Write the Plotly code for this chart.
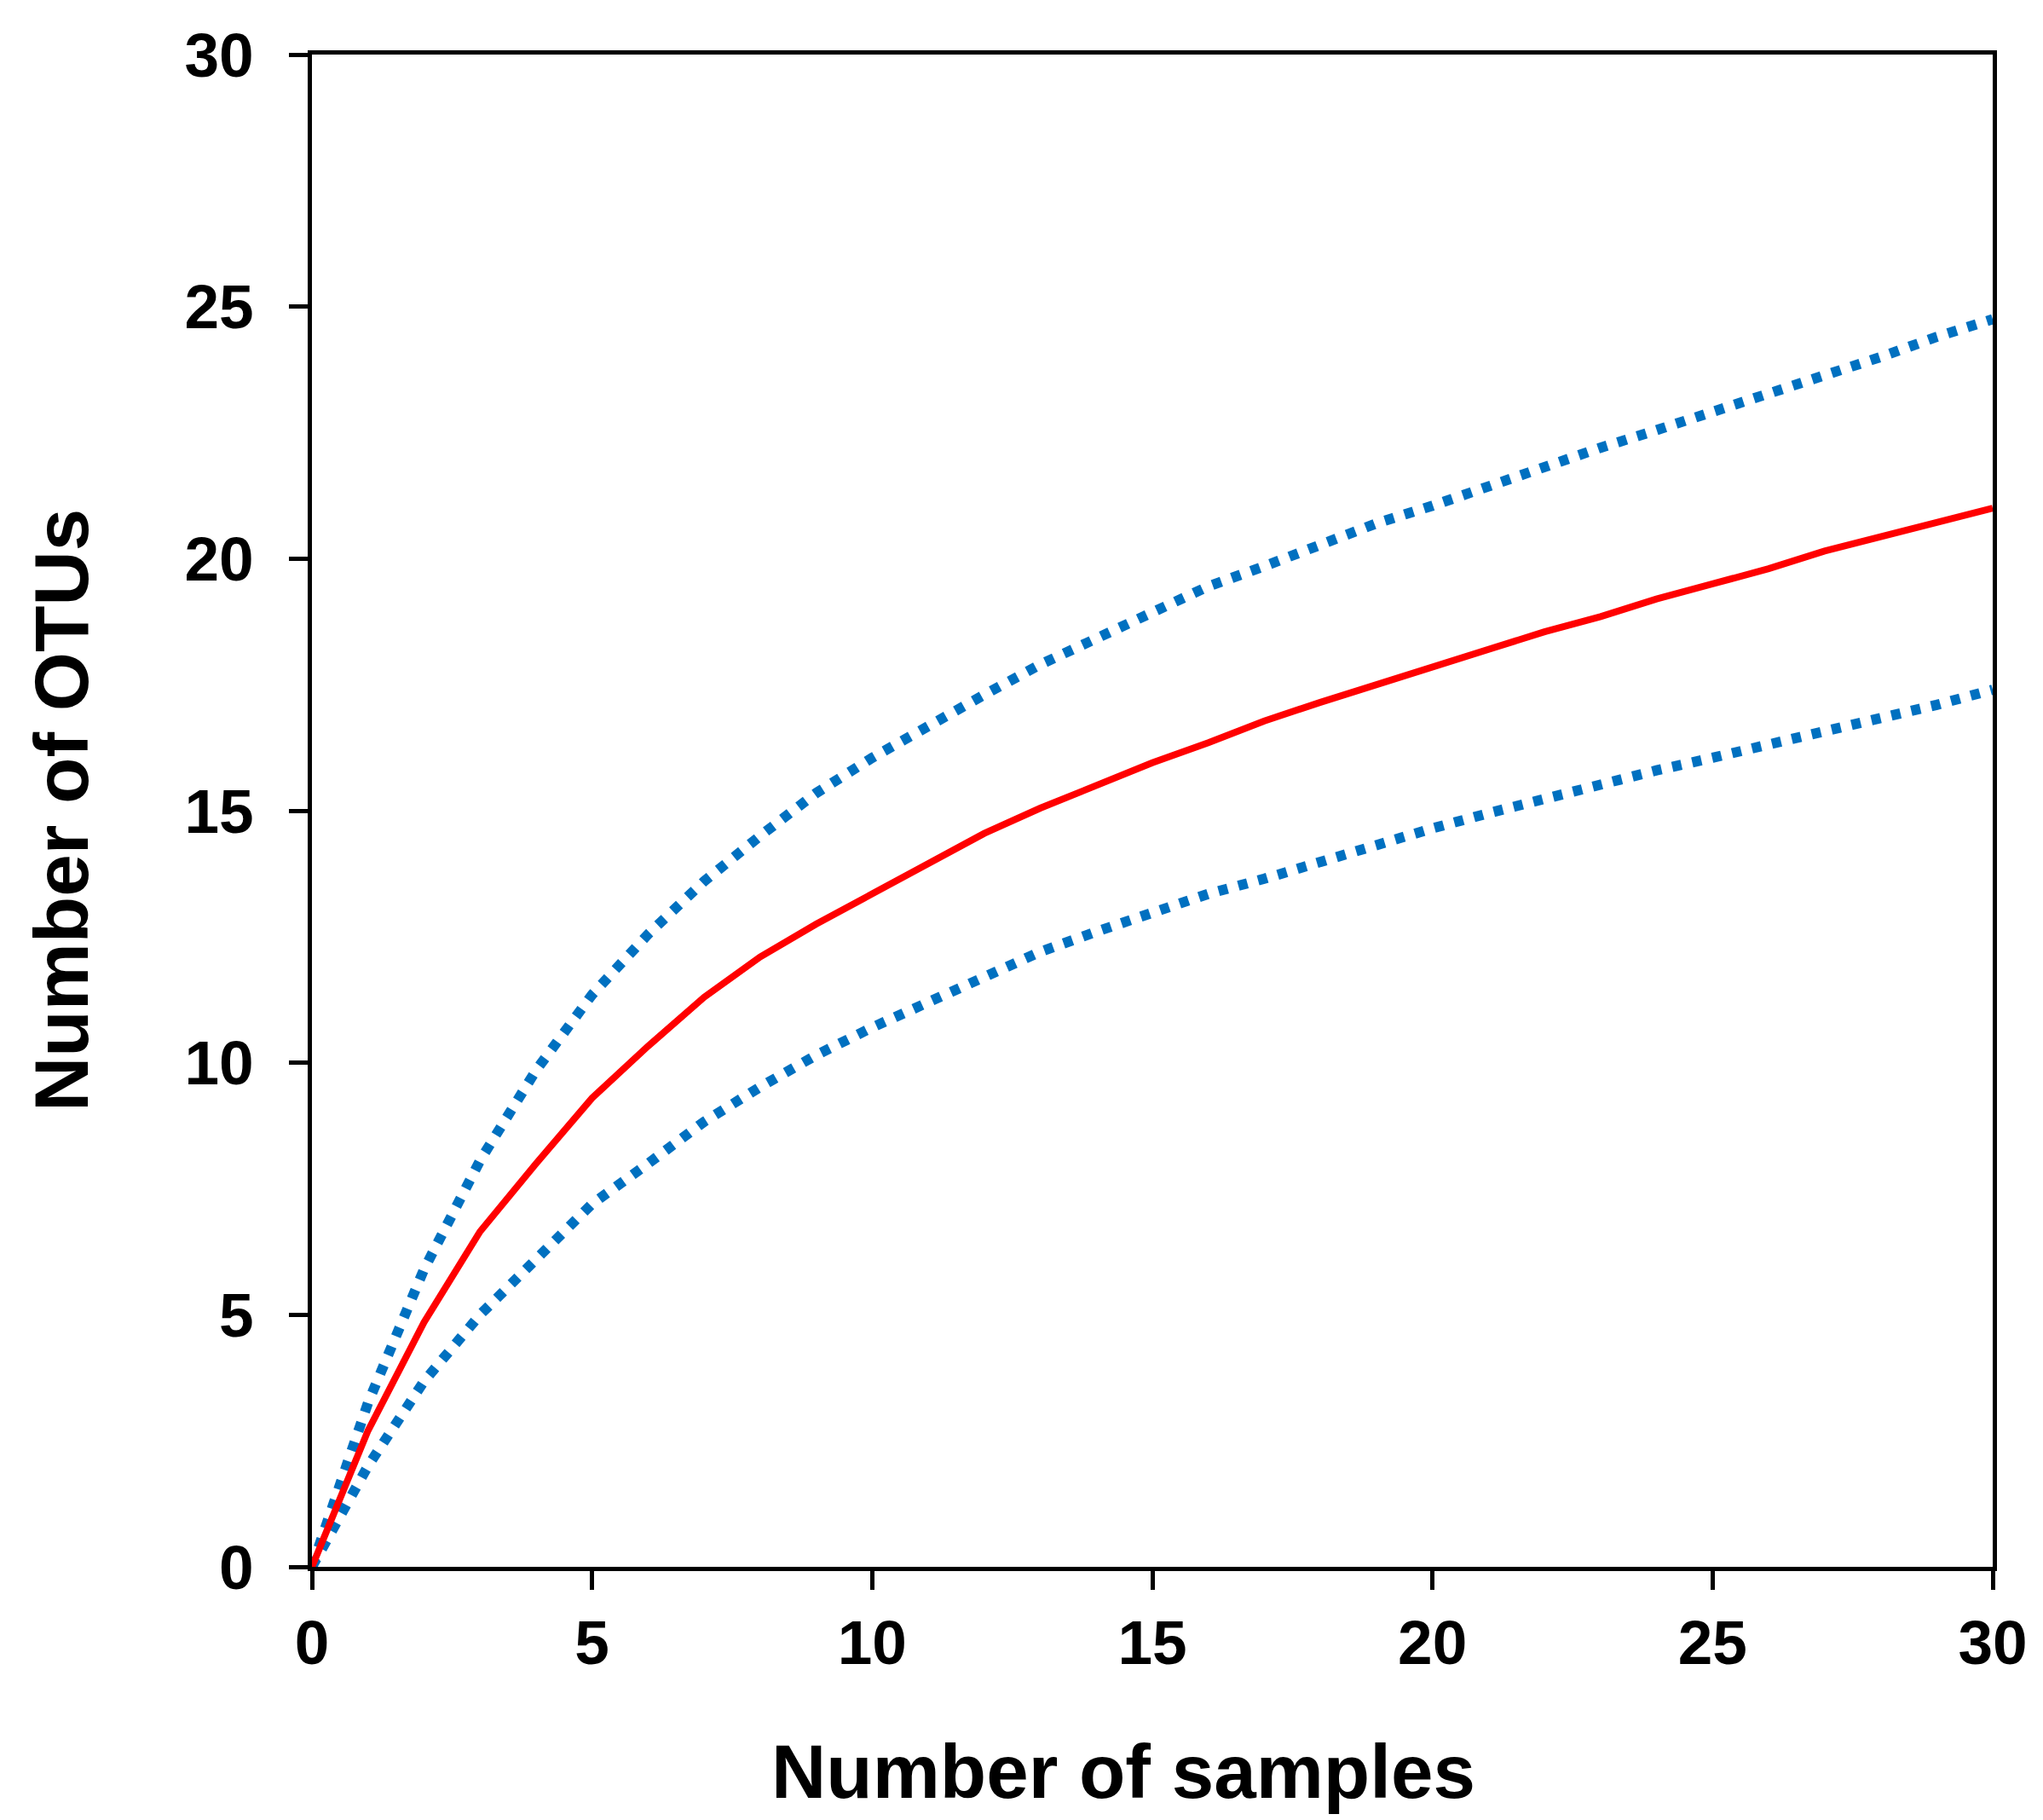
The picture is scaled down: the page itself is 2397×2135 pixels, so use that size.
import plotly.graph_objects as go

samples = list(range(0, 31))
otus_mean = [0, 2.7, 4.85, 6.65, 8.0, 9.3, 10.33, 11.3, 12.1, 12.75, 13.35,
             13.95, 14.55, 15.05, 15.5, 15.95, 16.35, 16.78, 17.15, 17.5, 17.85,
             18.22, 18.55, 18.85, 19.2, 19.5, 19.8, 20.15, 20.45, 20.72, 21.0]
otus_upper = [0, 3.25, 5.9, 8.06, 9.85, 11.35, 12.55, 13.6, 14.5, 15.35, 16.05,
              16.7, 17.3, 17.9, 18.4, 18.9, 19.45, 19.85, 20.3, 20.7, 21.05,
              21.45, 21.8, 22.2, 22.55, 22.9, 23.3, 23.65, 24.0, 24.4, 24.75]
otus_lower = [0, 2.0, 3.68, 5.0, 6.1, 7.2, 8.0, 8.83, 9.52, 10.15, 10.7,
              11.2, 11.7, 12.2, 12.6, 13.0, 13.35, 13.65, 14.0, 14.35, 14.65,
              14.95, 15.25, 15.5, 15.8, 16.05, 16.3, 16.6, 16.85, 17.1, 17.4]

x_ticks = [0, 5, 10, 15, 20, 25, 30]
y_ticks = [0, 5, 10, 15, 20, 25, 30]

BLUE = "rgb(0,112,192)"
RED = "rgb(255,0,0)"
FONT = "Liberation Sans, Arial, sans-serif"

fig = go.Figure()
fig.add_trace(go.Scatter(x=samples, y=otus_upper, mode="lines",
                         line=dict(color=BLUE, width=12, dash="11px,13px"),
                         showlegend=False))
fig.add_trace(go.Scatter(x=samples, y=otus_lower, mode="lines",
                         line=dict(color=BLUE, width=12, dash="11px,13px"),
                         showlegend=False))
fig.add_trace(go.Scatter(x=samples, y=otus_mean, mode="lines",
                         line=dict(color=RED, width=8),
                         showlegend=False))

axis_common = dict(showgrid=False, zeroline=False, showline=True,
                   linecolor="black", linewidth=4.5, mirror=True,
                   ticks="outside", ticklen=22, tickwidth=4.5, tickcolor="black",
                   tickfont=dict(family=FONT, size=73, color="black", weight="bold"))

fig.update_xaxes(range=[0, 30], tickvals=x_ticks, ticktext=[str(v) for v in x_ticks],
                 ticklabelstandoff=0, **axis_common)
fig.update_yaxes(range=[0, 30], tickvals=y_ticks, ticktext=[str(v) for v in y_ticks],
                 ticklabelstandoff=27, **axis_common)

fig.add_annotation(text="Number of samples", xref="paper", yref="paper",
                   x=0.4828, y=-0.1353, xanchor="center", yanchor="middle",
                   showarrow=False,
                   font=dict(family=FONT, size=89, color="black", weight="bold"))
fig.add_annotation(text="Number of OTUs", xref="paper", yref="paper",
                   x=-0.1491, y=0.5006, xanchor="center", yanchor="middle",
                   textangle=-90, showarrow=False,
                   font=dict(family=FONT, size=89, color="black", weight="bold"))

fig.update_layout(width=2397, height=2135,
                  margin=dict(l=358, r=67, t=56, b=305, pad=0),
                  paper_bgcolor="white", plot_bgcolor="white")

fig.write_html("out.html")
